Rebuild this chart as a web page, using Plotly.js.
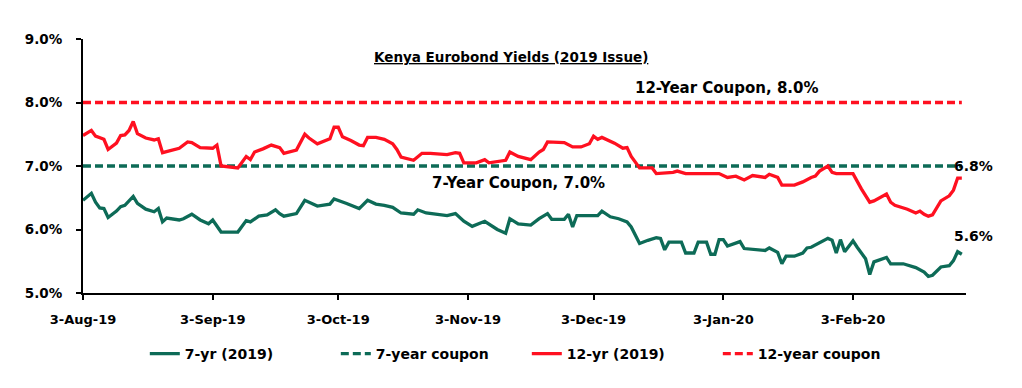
<!DOCTYPE html>
<html>
<head>
<meta charset="utf-8">
<script src="https://cdn.plot.ly/plotly-3.0.1.min.js"></script>
<style>html,body{margin:0;padding:0;background:#fff;}#chart{width:1022px;height:388px;}</style>
</head>
<body>
<div id="chart"></div>
<script>
// ---- data ----
const dates7 = ['2019-08-03','2019-08-05','2019-08-06','2019-08-07','2019-08-08','2019-08-09','2019-08-11','2019-08-12','2019-08-13','2019-08-15','2019-08-16','2019-08-18','2019-08-20','2019-08-21','2019-08-22','2019-08-23','2019-08-26','2019-08-27','2019-08-29','2019-08-31','2019-09-02','2019-09-03','2019-09-05','2019-09-09','2019-09-11','2019-09-12','2019-09-14','2019-09-16','2019-09-18','2019-09-19','2019-09-20','2019-09-23','2019-09-25','2019-09-28','2019-10-01','2019-10-02','2019-10-05','2019-10-08','2019-10-10','2019-10-12','2019-10-14','2019-10-16','2019-10-18','2019-10-21','2019-10-22','2019-10-24','2019-10-29','2019-10-31','2019-11-02','2019-11-04','2019-11-07','2019-11-08','2019-11-10','2019-11-12','2019-11-13','2019-11-15','2019-11-18','2019-11-20','2019-11-22','2019-11-23','2019-11-26','2019-11-27','2019-11-28','2019-11-29','2019-12-04','2019-12-05','2019-12-07','2019-12-09','2019-12-11','2019-12-12','2019-12-14','2019-12-16','2019-12-18','2019-12-19','2019-12-20','2019-12-21','2019-12-24','2019-12-25','2019-12-27','2019-12-28','2019-12-30','2019-12-31','2020-01-01','2020-01-02','2020-01-03','2020-01-04','2020-01-07','2020-01-08','2020-01-13','2020-01-14','2020-01-16','2020-01-17','2020-01-18','2020-01-20','2020-01-22','2020-01-23','2020-01-24','2020-01-28','2020-01-29','2020-01-30','2020-01-31','2020-02-01','2020-02-03','2020-02-04','2020-02-06','2020-02-07','2020-02-08','2020-02-11','2020-02-12','2020-02-15','2020-02-18','2020-02-20','2020-02-21','2020-02-22','2020-02-24','2020-02-26','2020-02-27','2020-02-28','2020-02-29'];
const yield7 = [6.46,6.57,6.43,6.34,6.33,6.19,6.29,6.36,6.38,6.52,6.41,6.32,6.28,6.33,6.12,6.18,6.15,6.17,6.24,6.15,6.09,6.15,5.96,5.96,6.14,6.12,6.21,6.23,6.31,6.25,6.21,6.25,6.46,6.37,6.40,6.48,6.41,6.33,6.46,6.40,6.38,6.35,6.26,6.24,6.31,6.26,6.22,6.25,6.13,6.05,6.13,6.09,6.00,5.94,6.17,6.09,6.07,6.17,6.25,6.16,6.16,6.24,6.04,6.22,6.22,6.29,6.20,6.17,6.12,6.04,5.78,5.83,5.87,5.86,5.68,5.80,5.80,5.63,5.63,5.80,5.80,5.61,5.61,5.84,5.84,5.74,5.81,5.70,5.67,5.71,5.64,5.46,5.58,5.58,5.63,5.71,5.72,5.86,5.83,5.63,5.84,5.65,5.82,5.72,5.54,5.29,5.49,5.56,5.46,5.46,5.40,5.33,5.26,5.28,5.41,5.43,5.51,5.65,5.61];

const dates12 = ['2019-08-03','2019-08-05','2019-08-06','2019-08-08','2019-08-09','2019-08-11','2019-08-12','2019-08-13','2019-08-14','2019-08-15','2019-08-16','2019-08-18','2019-08-20','2019-08-21','2019-08-22','2019-08-24','2019-08-26','2019-08-28','2019-08-29','2019-08-31','2019-09-03','2019-09-04','2019-09-05','2019-09-09','2019-09-11','2019-09-12','2019-09-13','2019-09-15','2019-09-17','2019-09-19','2019-09-20','2019-09-23','2019-09-25','2019-09-26','2019-09-28','2019-10-01','2019-10-02','2019-10-03','2019-10-04','2019-10-06','2019-10-08','2019-10-09','2019-10-10','2019-10-12','2019-10-14','2019-10-16','2019-10-17','2019-10-18','2019-10-19','2019-10-21','2019-10-23','2019-10-25','2019-10-29','2019-10-31','2019-11-01','2019-11-02','2019-11-05','2019-11-07','2019-11-08','2019-11-12','2019-11-13','2019-11-15','2019-11-18','2019-11-20','2019-11-21','2019-11-22','2019-11-26','2019-11-28','2019-11-30','2019-12-02','2019-12-03','2019-12-04','2019-12-05','2019-12-08','2019-12-10','2019-12-11','2019-12-12','2019-12-14','2019-12-17','2019-12-18','2019-12-22','2019-12-23','2019-12-25','2020-01-02','2020-01-04','2020-01-06','2020-01-08','2020-01-10','2020-01-13','2020-01-14','2020-01-16','2020-01-17','2020-01-20','2020-01-22','2020-01-24','2020-01-25','2020-01-26','2020-01-28','2020-01-29','2020-01-30','2020-02-03','2020-02-05','2020-02-07','2020-02-08','2020-02-11','2020-02-12','2020-02-13','2020-02-14','2020-02-16','2020-02-18','2020-02-19','2020-02-20','2020-02-21','2020-02-22','2020-02-24','2020-02-26','2020-02-27','2020-02-28','2020-02-29'];
const yield12 = [7.48,7.56,7.47,7.42,7.26,7.36,7.48,7.49,7.56,7.70,7.51,7.44,7.41,7.43,7.21,7.24,7.28,7.38,7.37,7.29,7.28,7.33,7.00,6.97,7.15,7.10,7.22,7.27,7.33,7.29,7.20,7.25,7.50,7.44,7.35,7.43,7.61,7.61,7.46,7.40,7.33,7.32,7.45,7.45,7.42,7.35,7.26,7.14,7.12,7.09,7.20,7.20,7.18,7.21,7.20,7.05,7.05,7.10,7.05,7.09,7.22,7.15,7.10,7.22,7.26,7.38,7.37,7.30,7.30,7.35,7.47,7.42,7.45,7.36,7.28,7.29,7.15,6.97,6.97,6.88,6.90,6.92,6.88,6.88,6.82,6.84,6.78,6.85,6.82,6.87,6.82,6.70,6.70,6.75,6.82,6.84,6.92,7.00,6.90,6.88,6.88,6.64,6.43,6.45,6.56,6.43,6.38,6.36,6.32,6.26,6.29,6.24,6.21,6.23,6.45,6.53,6.62,6.81,6.81];

const couponDates = ['2019-08-03','2020-02-29'];
const coupon7 = [7.0, 7.0];
const coupon12 = [8.0, 8.0];

const tickDates = ['2019-08-03','2019-09-03','2019-10-03','2019-11-03','2019-12-03','2020-01-03','2020-02-03'];
const tickLabels = ['3-Aug-19','3-Sep-19','3-Oct-19','3-Nov-19','3-Dec-19','3-Jan-20','3-Feb-20'];
const seriesNames = ['7-yr (2019)','7-year coupon','12-yr (2019)','12-year coupon'];
const chartTitle = 'Kenya Eurobond Yields (2019 Issue)';
const couponNotes = ['12-Year Coupon, 8.0%','7-Year Coupon, 7.0%'];
const endLabels = ['6.8%','5.6%'];

// ---- styling ----
const GREEN = '#0D6B57';
const RED = '#FF1020';
const FONT = 'DejaVu Sans, Arial, sans-serif';

const traces = [
  {x: dates7, y: yield7, name: seriesNames[0], type: 'scatter', mode: 'lines',
   line: {color: GREEN, width: 3.3}},
  {x: couponDates, y: coupon7, name: seriesNames[1], type: 'scatter', mode: 'lines',
   line: {color: GREEN, width: 3.3, dash: '8px,4px'}},
  {x: dates12, y: yield12, name: seriesNames[2], type: 'scatter', mode: 'lines',
   line: {color: RED, width: 3.3}},
  {x: couponDates, y: coupon12, name: seriesNames[3], type: 'scatter', mode: 'lines',
   line: {color: RED, width: 3.3, dash: '8px,4px'}}
];

const layout = {
  width: 1022, height: 388,
  margin: {l: 83, r: 56, t: 39, b: 95, pad: 0},
  paper_bgcolor: '#fff', plot_bgcolor: '#fff',
  font: {family: FONT, color: '#000', size: 13},
  showlegend: true,
  legend: {orientation: 'h', x: 0.07, xanchor: 'left', y: -0.24, yanchor: 'middle',
           font: {family: FONT, size: 14, color: '#000', weight: 'bold'},
           entrywidth: 146, entrywidthmode: 'pixels', itemwidth: 30,
           bgcolor: 'rgba(0,0,0,0)'},
  xaxis: {type: 'date', range: ['2019-08-03', '2020-03-01'],
          tickmode: 'array', tickvals: tickDates, ticktext: tickLabels,
          showgrid: false, zeroline: false, showline: true, linecolor: '#000', linewidth: 2,
          ticks: 'outside', ticklen: 5, tickwidth: 2, tickcolor: '#000',
          tickfont: {family: FONT, size: 13, color: '#000', weight: 'bold'},
          ticklabelstandoff: 8, fixedrange: true},
  yaxis: {range: [5, 9], dtick: 1, tick0: 5, tickformat: '.1f', ticksuffix: '%',
          showgrid: false, zeroline: false, showline: true, linecolor: '#000', linewidth: 2,
          ticks: 'outside', ticklen: 5, tickwidth: 2, tickcolor: '#000',
          tickfont: {family: FONT, size: 13.5, color: '#000', weight: 'bold'},
          ticklabelstandoff: 11, fixedrange: true},
  annotations: [
    {xref: 'paper', yref: 'paper', x: 0.485, y: 0.93, xanchor: 'center', yanchor: 'middle',
     text: '<b><u>' + chartTitle + '</u></b>', showarrow: false,
     font: {family: FONT, size: 13.5, color: '#000'}},
    {xref: 'x', yref: 'y', x: '2020-01-04', y: 8.23, xanchor: 'center', yanchor: 'middle',
     text: '<b>' + couponNotes[0] + '</b>', showarrow: false,
     font: {family: FONT, size: 15, color: '#000'}},
    {xref: 'x', yref: 'y', x: '2019-11-15', y: 6.74, xanchor: 'center', yanchor: 'middle',
     text: '<b>' + couponNotes[1] + '</b>', showarrow: false,
     font: {family: FONT, size: 15, color: '#000'}},
    {xref: 'paper', yref: 'y', x: 1.008, y: 7.0, xanchor: 'center', yanchor: 'middle',
     text: '<b>' + endLabels[0] + '</b>', showarrow: false,
     font: {family: FONT, size: 14, color: '#000'}},
    {xref: 'paper', yref: 'y', x: 1.008, y: 5.89, xanchor: 'center', yanchor: 'middle',
     text: '<b>' + endLabels[1] + '</b>', showarrow: false,
     font: {family: FONT, size: 14, color: '#000'}}
  ]
};

Plotly.newPlot('chart', traces, layout, {displayModeBar: false, staticPlot: true});
</script>
</body>
</html>
